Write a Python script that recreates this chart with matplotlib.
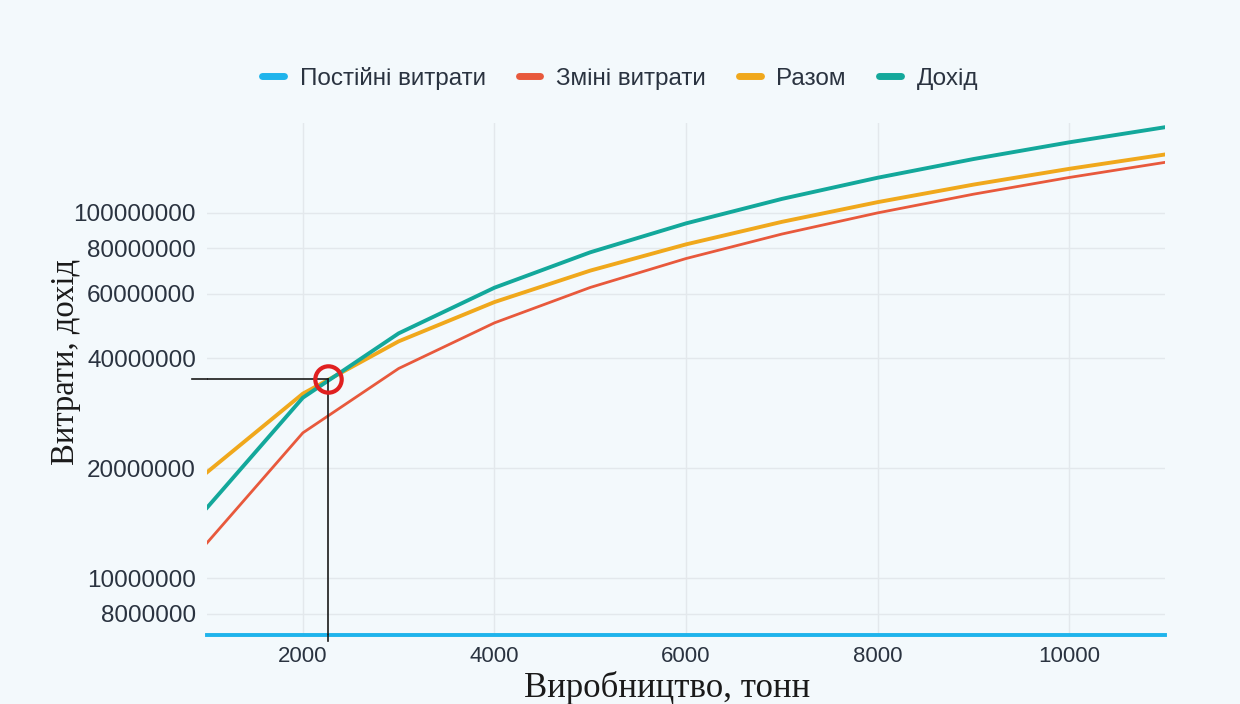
import numpy as np
import matplotlib.pyplot as plt
from matplotlib.transforms import blended_transform_factory

# обсяг виробництва, тонн
output_t = [1000, 2000, 3000, 4000, 5000, 6000, 7000, 8000, 9000, 10000, 11000]
fixed_cost = [7000000] * 11
variable_cost = [12500000, 25000000, 37500000, 50000000, 62500000, 75000000,
                 87500000, 100000000, 112500000, 125000000, 137500000]
total_cost = [19500000, 32000000, 44500000, 57000000, 69500000, 82000000,
              94500000, 107000000, 119500000, 132000000, 144500000]
revenue = [15600000, 31200000, 46800000, 62400000, 78000000, 93600000,
           109200000, 124800000, 140400000, 156000000, 171600000]

# точка беззбитковості
be_x = 2260
be_y = 35200000

y_ticks = [8000000, 10000000, 20000000, 40000000, 60000000, 80000000, 100000000]
x_ticks = [2000, 4000, 6000, 8000, 10000]

bg = '#f3f9fc'
c_fixed = '#1fb4ec'
c_var = '#e8593c'
c_total = '#f0a81c'
c_rev = '#13a89b'

plt.rcParams['font.family'] = ['Liberation Sans', 'DejaVu Sans']

fig = plt.figure(figsize=(12.4, 7.04), dpi=100, facecolor=bg)
ax = fig.add_axes([0.167, 0.098, 0.7725, 0.727], facecolor=bg)

ax.plot(output_t, variable_cost, color=c_var, lw=2.0, label='Зміні витрати', zorder=3)
ax.plot(output_t, total_cost, color=c_total, lw=2.8, label='Разом', zorder=4)
ax.plot(output_t, revenue, color=c_rev, lw=2.8, label='Дохід', zorder=5)
ax.plot(output_t, fixed_cost, color=c_fixed, lw=2.8, label='Постійні витрати',
        zorder=6, clip_on=False)

ax.set_yscale('log')
ax.set_xlim(1000, 11000)
ax.set_ylim(6990000, 176000000)
ax.set_yticks(y_ticks)
ax.set_yticklabels([str(v) for v in y_ticks])
ax.yaxis.set_minor_locator(plt.NullLocator())
ax.set_xticks(x_ticks)
ax.set_xticklabels([str(v) for v in x_ticks])
ax.tick_params(length=0, colors='#2a3340', pad=8)
ax.tick_params(axis='y', labelsize=17.5)
ax.tick_params(axis='x', labelsize=16)
ax.grid(True, color='#e3e8ec', lw=1.0)
for s in ax.spines.values():
    s.set_visible(False)

# лінії до точки беззбитковості
tr = blended_transform_factory(ax.transAxes, ax.transData)
ax.plot([-0.016, 0], [be_y, be_y], transform=tr, color='#1a1a1a', lw=1.2, clip_on=False, zorder=7)
ax.plot([1000, be_x], [be_y, be_y], color='#1a1a1a', lw=1.2, zorder=7)
trv = blended_transform_factory(ax.transData, ax.transAxes)
ax.plot([be_x, be_x], [-0.012, 0], transform=trv, color='#1a1a1a', lw=1.2, clip_on=False, zorder=7)
ax.plot([be_x, be_x], [6990000, be_y], color='#1a1a1a', lw=1.2, zorder=7)
ax.plot([be_x], [be_y], marker='o', ms=19, mfc='none', mec='#e02020', mew=3, zorder=8)

ax.set_xlabel('Виробництво, тонн', family=['Liberation Serif', 'DejaVu Serif'],
              fontsize=25, color='#1a1a1a')
ax.set_ylabel('Витрати, дохід', family=['Liberation Serif', 'DejaVu Serif'],
              fontsize=23.5, color='#1a1a1a')
ax.xaxis.set_label_coords(0.48, -0.104)
ax.yaxis.set_label_coords(-0.148, 0.533)
ax.xaxis.label.set_va('center')
ax.yaxis.label.set_va('center')

h, l = ax.get_legend_handles_labels()
order = [3, 0, 1, 2]
leg = fig.legend([h[i] for i in order], [l[i] for i in order], loc='center',
                 bbox_to_anchor=(0.5, 0.889), ncol=4, frameon=False, fontsize=17.5,
                 handlelength=0.9, handletextpad=0.65, columnspacing=1.35)
for ln in leg.get_lines():
    ln.set_linewidth(5)
    ln.set_solid_capstyle('round')
for t in leg.get_texts():
    t.set_color('#2a3340')

fig.savefig('out.png', dpi=100, facecolor=bg)
